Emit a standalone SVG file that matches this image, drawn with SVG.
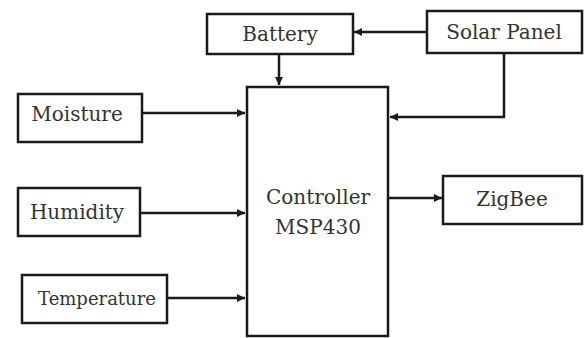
<svg xmlns="http://www.w3.org/2000/svg" width="584" height="338" viewBox="0 0 584 338">
<defs>
<style>
.box{fill:#fff;stroke:#1a1a1a;stroke-width:2.5}
.t{font-family:"DejaVu Serif","Liberation Serif",serif;font-size:20px;fill:#333;text-anchor:middle}
.c{fill:none;stroke:#1a1a1a;stroke-width:2.5}
</style>
<marker id="ah" viewBox="0 0 10 10" refX="10" refY="5" markerWidth="3.2" markerHeight="3.2" orient="auto" markerUnits="strokeWidth">
<path d="M0,0 L10,5 L0,10 z" fill="#1a1a1a"/>
</marker>
</defs>
<rect width="584" height="338" fill="#fff"/>
<g id="connectors">
<line class="c" x1="426" y1="32" x2="354" y2="32" marker-end="url(#ah)"/>
<line class="c" x1="279" y1="54" x2="279" y2="85" marker-end="url(#ah)"/>
<polyline class="c" points="504,53 504,117 390,117" marker-end="url(#ah)"/>
<line class="c" x1="142" y1="113" x2="245" y2="113" marker-end="url(#ah)"/>
<line class="c" x1="140" y1="213" x2="245" y2="213" marker-end="url(#ah)"/>
<line class="c" x1="167" y1="298" x2="245" y2="298" marker-end="url(#ah)"/>
<line class="c" x1="389" y1="198" x2="442" y2="198" marker-end="url(#ah)"/>
</g>
<g id="battery"><rect class="box" x="207" y="14" width="146" height="40"/><text class="t" x="280" y="41">Battery</text></g>
<g id="solar"><rect class="box" x="427" y="11" width="155" height="42"/><text class="t" x="504" y="39">Solar Panel</text></g>
<g id="controller"><rect class="box" x="247" y="87" width="141" height="249"/><text class="t" x="318" y="204">Controller</text><text class="t" x="318" y="234">MSP430</text></g>
<g id="moisture"><rect class="box" x="18" y="94" width="124" height="48"/><text class="t" x="77" y="121">Moisture</text></g>
<g id="humidity"><rect class="box" x="18" y="188" width="122" height="48"/><text class="t" x="77" y="219">Humidity</text></g>
<g id="temperature"><rect class="box" x="22" y="275" width="145" height="48"/><text class="t" x="97" y="305" style="font-size:18px">Temperature</text></g>
<g id="zigbee"><rect class="box" x="443" y="176" width="139" height="48"/><text class="t" x="512" y="206">ZigBee</text></g>
</svg>
